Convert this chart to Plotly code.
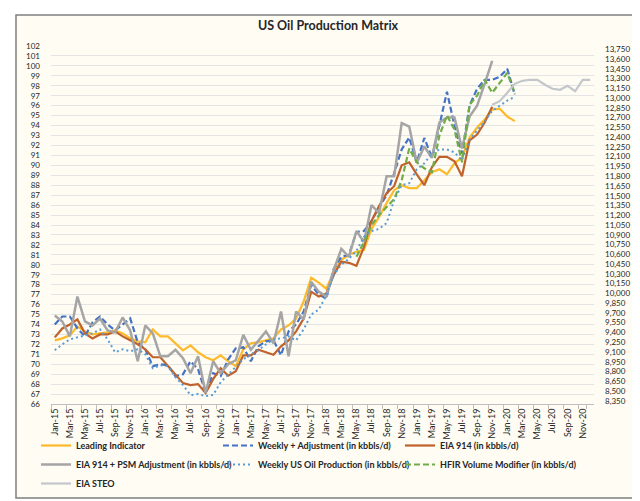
import plotly.graph_objects as go

mon = ["Jan", "Feb", "Mar", "Apr", "May", "Jun", "Jul", "Aug", "Sep", "Oct", "Nov", "Dec"]
months = [f"{m}-{y}" for y in range(15, 21) for m in mon]
tick_labels = months[::2]

# Leading Indicator (index, left axis) Jan-15 .. Feb-20
leading = [72.4, 72.6, 72.9, 73.8, 73.3, 73.0, 73.1, 73.2, 73.4, 73.1, 72.6, 72.3,
           72.2, 73.5, 72.8, 72.8, 72.1, 71.4, 71.9, 71.2, 70.7, 70.4, 70.9, 70.3,
           69.8, 71.5, 72.1, 72.2, 72.4, 72.6, 73.5, 73.9, 74.6, 76.3, 78.7, 78.2,
           77.6, 79.3, 80.5, 81.0, 81.3, 81.5, 83.6, 84.8, 86.2, 87.5, 88.0, 87.7,
           87.7, 88.5, 89.3, 89.6, 89.1, 90.2, 90.8, 92.8, 93.8, 94.6, 95.6, 95.7,
           94.9, 94.45]

# Weekly + Adjustment (kbbls/d) Jan-15 .. Feb-20
weekly_adj = [9522, 9644, 9644, 9461, 9339, 9553, 9644, 9522, 9430, 9522, 9614, 9247,
              9140, 8881, 8911, 8896, 8728, 8758, 8957, 8835, 8468, 8774, 8728, 8987,
              9155, 9171, 8957, 9186, 9263, 9278, 9048, 9415, 9522, 9721, 10133, 9981,
              9920, 10378, 10561, 10592, 10943, 10958, 11111, 11325, 11508, 11845, 12211, 12394,
              12012, 12387, 12089, 12578, 13097, 12578, 12150, 12883, 13143, 13281, 13281, 13327,
              13449, 13051]

# EIA 914 (kbbls/d) Jan-15 .. Nov-19
eia914 = [9324, 9461, 9522, 9599, 9385, 9308, 9369, 9369, 9415, 9339, 9278, 9217,
          9140, 9018, 9018, 8881, 8743, 8621, 8590, 8606, 8468, 8682, 8850, 8735,
          8804, 9048, 9048, 9133, 9094, 9056, 9186, 9278, 9415, 9614, 10026, 9950,
          9996, 10286, 10485, 10469, 10424, 10714, 11111, 11340, 11539, 11646, 11967, 12013,
          11829, 11661, 11936, 12097, 12097, 12028, 11799, 12349, 12440, 12624, 12868]

# EIA 914 + PSM Adjustment (kbbls/d) Jan-15 .. Nov-19
eia914_psm = [9660, 9568, 9339, 9950, 9568, 9507, 9614, 9431, 9400, 9629, 9431, 8957,
              9507, 9385, 9033, 9033, 9133, 9003, 8774, 9033, 8468, 8957, 8774, 8911,
              8972, 9362, 9133, 9278, 9415, 9232, 9721, 9033, 9721, 9599, 10179, 10026,
              9950, 10363, 10683, 10561, 10958, 10790, 11356, 11233, 11799, 11799, 12616, 12562,
              12005, 12257, 12081, 12624, 12700, 12700, 12226, 12715, 12883, 13219, 13571]

# Weekly US Oil Production (kbbls/d) Jan-15 .. Feb-20
weekly_us = [9125, 9217, 9293, 9324, 9354, 9385, 9446, 9293, 9094, 9140, 9110, 9140,
             9064, 8850, 8896, 8881, 8713, 8590, 8438, 8453, 8422, 8438, 8636, 8758,
             8865, 8988, 9064, 9125, 9217, 9293, 9308, 9339, 9278, 9446, 9675, 9751,
             9965, 10286, 10439, 10531, 10653, 10867, 10958, 10989, 11081, 11432, 11661, 11692,
             11906, 11997, 12150, 12211, 12211, 12165, 12043, 12364, 12501, 12639, 12807, 12883,
             12960, 13021]

# HFIR Volume Modifier (kbbls/d) May-18 .. Feb-20
hfir = [10561, 10790, 11050, 11203, 11325, 11447, 11737, 12226, 12012, 11921, 11860, 12425,
        12731, 12517, 12013, 12899, 13036, 13281, 13082, 13235, 13388, 13067]
hfir_start = "May-18"

# EIA STEO (kbbls/d) Nov-19 .. Dec-20
steo = [12899, 12952, 13082, 13219, 13265, 13281, 13281, 13204, 13143, 13128, 13189, 13105,
        13281, 13281]
steo_start = "Nov-19"

left_ticks = list(range(66, 103))
right_ticks = list(range(8350, 13751, 150))

FONT = "Lato"
TXT = "#262626"

fig = go.Figure()


def add(name, xs, ys, color, width, dash="solid", axis="y2", rank=1):
    fig.add_trace(go.Scatter(
        x=xs, y=ys, name=name, mode="lines", yaxis=axis, legendrank=rank,
        line=dict(color=color, width=width, dash=dash),
        hoverinfo="x+y+name"))


add("Leading Indicator", months[:len(leading)], leading, "#FDBA2A", 2.2, axis="y", rank=1)
add("Weekly + Adjustment (in kbbls/d)", months[:len(weekly_adj)], weekly_adj, "#4472C4", 2.2,
    dash="6px,3px", rank=2)
add("EIA 914 (in kbbls/d)", months[:len(eia914)], eia914, "#C0622C", 2.2, rank=3)
add("EIA 914 + PSM Adjustment (in kbbls/d)", months[:len(eia914_psm)], eia914_psm, "#A5A5A5", 2.5,
    rank=4)
add("Weekly US Oil Production (in kbbls/d)", months[:len(weekly_us)], weekly_us, "#5B9BD5", 2.0,
    dash="2px,3px", rank=5)
i0 = months.index(hfir_start)
add("HFIR Volume Modifier (in kbbls/d)", months[i0:i0 + len(hfir)], hfir, "#70AD47", 2.2,
    dash="6px,3px", rank=6)
j0 = months.index(steo_start)
add("EIA STEO", months[j0:j0 + len(steo)], steo, "#C3C6CB", 2.2, rank=7)

# plot area: x 43..586, y 38..396
L, R, T, B = 43, 586, 38, 396
W, H = R - L, B - T


def px(x):
    return (x - L) / W


def py(y):
    return (B - y) / H


fig.add_shape(type="rect", xref="paper", yref="paper", layer="below",
              x0=px(8), x1=px(630), y0=py(490), y1=py(7),
              fillcolor="#FEFCF3", line=dict(color="#7F7F7F", width=1.5))

fig.update_layout(
    width=640, height=501,
    margin=dict(l=L, r=640 - R, t=T, b=501 - B, pad=0, autoexpand=False),
    paper_bgcolor="white", plot_bgcolor="rgba(0,0,0,0)",
    font=dict(family=FONT, size=9.5, color=TXT),
    title=dict(text="<b>US Oil Production Matrix</b>", x=0.5, xref="container",
               y=1 - 18 / 501, yref="container", xanchor="center", yanchor="middle",
               font=dict(family=FONT, size=12.5, color=TXT)),
    showlegend=True,
    legend=dict(orientation="h", x=px(28), y=py(423), xanchor="left", yanchor="top",
                entrywidth=137, entrywidthmode="pixels", bgcolor="rgba(0,0,0,0)",
                font=dict(family=FONT, size=9, color=TXT, weight="bold"),
                itemwidth=30, tracegroupgap=0),
    xaxis=dict(type="category", categoryorder="array", categoryarray=months,
               range=[-0.5, len(months) - 0.5], automargin=False,
               tickvals=tick_labels, ticktext=tick_labels, tickangle=-90,
               tickson="boundaries", ticks="outside", ticklen=4, tickcolor="#BFBFBF",
               showline=True, linecolor="#BFBFBF", linewidth=1, showgrid=False,
               tickfont=dict(family=FONT, size=9, color=TXT)),
    yaxis=dict(range=[66, 102], tickvals=left_ticks, showgrid=True, gridcolor="#E4E4E4",
               gridwidth=1, zeroline=False, showline=False, ticks="", automargin=False,
               ticklabelstandoff=10, tickfont=dict(family=FONT, size=8, color=TXT)),
    yaxis2=dict(range=[8300, 13800], tickvals=right_ticks, tickformat=",d", overlaying="y",
                side="right", showgrid=False, zeroline=False, showline=False, ticks="",
                automargin=False,
                ticklabelstandoff=10, tickfont=dict(family=FONT, size=8, color=TXT)),
)

fig.write_html("out.html")
